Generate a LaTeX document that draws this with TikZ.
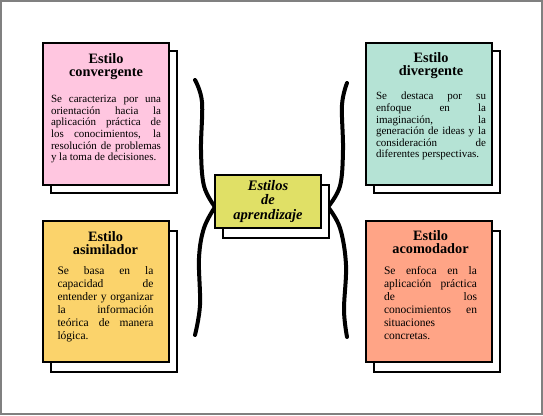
\documentclass[tikz,border=0pt]{standalone}
\usepackage{fontspec}
\setmainfont{Liberation Serif}
\usetikzlibrary{shadows}

\definecolor{convpink}{HTML}{FFC6E0}
\definecolor{divgreen}{HTML}{B5E3D5}
\definecolor{asimyellow}{HTML}{FBD36B}
\definecolor{acomorange}{HTML}{FFA486}
\definecolor{centeryellow}{HTML}{E0E066}

% title block + justified body of one card
\newcommand{\cardtext}[3]{{\centering\fontsize{14.3}{13.7}\selectfont\bfseries #1\par}\vspace{#2}%
  {\hyphenpenalty=10000 #3\par}}

\begin{document}
\begin{tikzpicture}[x=1pt, y=-1pt,
    card/.style={draw=black, line width=2pt, minimum width=126pt, minimum height=142pt, inner sep=0pt,
      copy shadow={shadow xshift=8pt, shadow yshift=-#1, fill=white, draw=black, line width=2pt}},
    card/.default=8pt,
    cardtext/.style={anchor=base, inner sep=0pt, text width=#1, align=justify},
    curlyline/.style={line width=4pt, line cap=round, line join=round}]
        \useasboundingbox (0,0) rectangle (543,415);
        % ==== FRAME ====
        \draw[gray, line width=1.2pt] (1,1) rectangle (542,414);

        % ==== BRACES ====
        \coordinate (ltip) at (215,207);
        \coordinate (rtip) at (328,207);
        \draw[curlyline] plot[smooth, tension=0.6] coordinates {(195,80) (202,102) (201,150) (204,186) (ltip)};
        \draw[curlyline] plot[smooth, tension=0.6] coordinates {(ltip) (204,228) (199,258) (200,305) (195,335)};
        \draw[curlyline] plot[smooth, tension=0.6] coordinates {(347,83) (342,105) (343,150) (340,186) (rtip)};
        \draw[curlyline] plot[smooth, tension=0.6] coordinates {(rtip) (340,228) (346,265) (344,310) (347,337)};

        % ==== CARDS ====
        \node[card, fill=convpink] (conv) at (106,114) {};
        \node[card, fill=divgreen] (div) at (429,114) {};
        \node[card=10pt, fill=asimyellow, minimum height=141pt] (asim) at (105.5,291.5) {};
        \node[card=10pt, fill=acomorange, minimum height=141pt] (acom) at (429,291.5) {};

        % ==== CENTER ====
        \node[card=10pt, fill=centeryellow, minimum width=106pt, minimum height=53pt, align=center,
            font=\fontsize{14.5}{14.7}\selectfont\bfseries\itshape] (estilos) at (268,201.5)
            {Estilos\\de\\aprendizaje};

        % ==== TEXTS ====
        \node[cardtext=110pt, font=\fontsize{11}{11.6}\selectfont] (convtxt) at (106,63)
            {\cardtext{Estilo\\convergente}{14.4pt}{Se caracteriza por una\linebreak orientación hacia la\linebreak
            aplicación práctica de\linebreak los conocimientos, la\linebreak resolución de problemas\linebreak
            y la toma de decisiones.}};
        \node[cardtext=110pt, font=\fontsize{11}{11.6}\selectfont] (divtxt) at (431,62)
            {\cardtext{Estilo\\divergente}{12.6pt}{Se destaca por su\linebreak enfoque en la\linebreak
            imaginación, la\linebreak generación de ideas y la\linebreak consideración de\linebreak
            diferentes perspectivas.}};
        \node[cardtext=96pt, font=\fontsize{11.5}{12.9}\selectfont] (asimtxt) at (105.5,241)
            {\cardtext{Estilo\\asimilador}{7pt}{Se basa en la\linebreak capacidad de\linebreak
            entender y organizar\linebreak la información\linebreak teórica de manera\linebreak lógica.}};
        \node[cardtext=93pt, font=\fontsize{11.5}{12.9}\selectfont] (acomtxt) at (430.5,240)
            {\cardtext{Estilo\\acomodador}{8pt}{Se enfoca en la\linebreak aplicación práctica\linebreak
            de los\linebreak conocimientos en\linebreak situaciones\linebreak concretas.}};
\end{tikzpicture}
\end{document}
